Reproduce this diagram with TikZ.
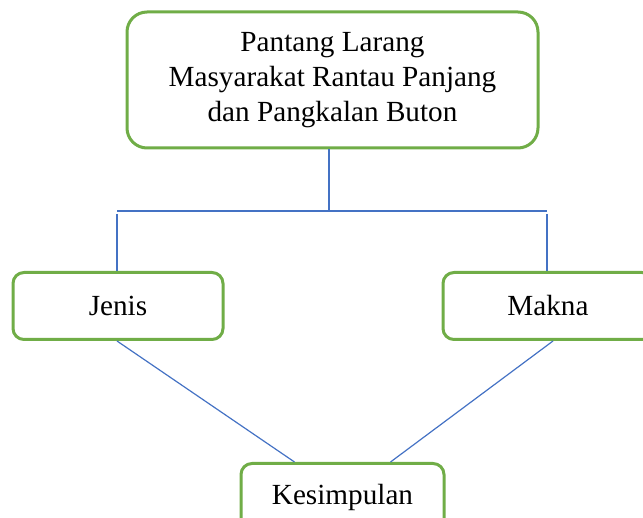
\documentclass[tikz,border=0pt]{standalone}
\usepackage{fontspec}
\setmainfont{Liberation Serif}
\usepackage{tikz}
\usetikzlibrary{positioning}
\definecolor{boxgreen}{RGB}{112,173,71}
\definecolor{lineblue}{RGB}{68,114,196}
\tikzset{
    bigbox/.style = {rectangle, rounded corners=20pt, line width=3pt, draw=boxgreen, fill=white, align=center, minimum width=411pt, minimum height=136pt, font=\fontsize{29.2}{35}\selectfont},
    smallbox/.style = {rectangle, rounded corners=11pt, line width=3pt, draw=boxgreen, fill=white, align=center, minimum height=67pt, font=\fontsize{29.2}{35}\selectfont},
    edgel/.style = {line width=1.2pt, lineblue}
}

\begin{document}
\begin{tikzpicture}[x=1pt, y=-1pt]
  \useasboundingbox (0,0) rectangle (643,518);
  \clip (0,0) rectangle (643,518);

  \node[bigbox] at (332.5,80) (judul) {Pantang Larang\\Masyarakat Rantau Panjang\\dan Pangkalan Buton};
  \node[smallbox, minimum width=210pt] at (118,306) (jenis) {Jenis};
  \node[smallbox, minimum width=210pt] at (548,306) (makna) {Makna};
  \node[smallbox, minimum width=203pt] at (342.5,497) (kesimpulan) {Kesimpulan};

  \coordinate (cabang) at (329,211);
  \coordinate (cabangkiri) at (117,211);
  \coordinate (cabangkanan) at (547,211);

  \draw[edgel] (judul.south -| cabang) -- (cabang);
  \draw[edgel] (cabangkiri) -- (cabangkanan);
  \draw[edgel] ([yshift=-3pt]cabangkiri) -- (cabangkiri |- jenis.north);
  \draw[edgel] ([yshift=-3pt]cabangkanan) -- (cabangkanan |- makna.north);

  \draw[edgel] ([xshift=-1pt]jenis.south) -- ([xshift=-48pt]kesimpulan.north);
  \draw[edgel] ([xshift=5pt]makna.south) -- ([xshift=48pt]kesimpulan.north);
\end{tikzpicture}
\end{document}
